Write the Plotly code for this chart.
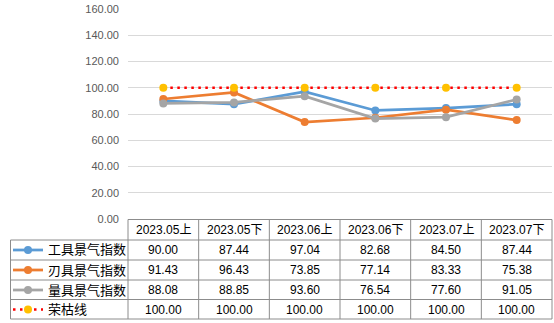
import plotly.graph_objects as go

categories = ["2023.05上", "2023.05下", "2023.06上", "2023.06下", "2023.07上", "2023.07下"]
tool_index = [90.00, 87.44, 97.04, 82.68, 84.50, 87.44]
blade_index = [91.43, 96.43, 73.85, 77.14, 83.33, 75.38]
gauge_index = [88.08, 88.85, 93.60, 76.54, 77.60, 91.05]
boom_line = [100.00, 100.00, 100.00, 100.00, 100.00, 100.00]
series_names = ["工具景气指数", "刃具景气指数", "量具景气指数", "荣枯线"]
y_ticks = [0, 20, 40, 60, 80, 100, 120, 140, 160]

W, H = 554, 323
L, R, T, B = 128, 2, 9, 104
PW, PH = W - L - R, H - T - B
BOTTOM = H - B

def px(x):
    return (x - L) / PW

def py(y):
    return (BOTTOM - y) / PH

FONT = "Liberation Sans, Noto Sans CJK SC, sans-serif"
colors = ["#5B9BD5", "#ED7D31", "#A5A5A5"]
series_vals = [tool_index, blade_index, gauge_index]

fig = go.Figure()
for name, vals, c in zip(series_names[:3], series_vals, colors):
    fig.add_trace(go.Scatter(
        x=categories, y=vals, name=name, mode="lines+markers",
        line=dict(color=c, width=2.75), marker=dict(color=c, size=8),
        cliponaxis=False, showlegend=False))
fig.add_trace(go.Scatter(
    x=categories, y=boom_line, name=series_names[3], mode="lines+markers",
    line=dict(color="#FF0000", width=2.5, dash="2.5px,4.5px"),
    marker=dict(color="#FFC000", size=8), cliponaxis=False, showlegend=False))

shapes = []
border = dict(color="#8C8C8C", width=1)
n = len(categories)
# horizontal lines of table
row_px = [219.5, 240, 260, 280, 299.5, 319]
for i, yy in enumerate(row_px):
    x0 = px(128) if i == 0 else px(10.5)
    shapes.append(dict(type="line", xref="paper", yref="paper", x0=x0, x1=1,
                       y0=py(yy), y1=py(yy), line=border))
# vertical lines
for k in range(n + 1):
    xx = k / n
    shapes.append(dict(type="line", xref="paper", yref="paper", x0=xx, x1=xx,
                       y0=py(219.5), y1=py(319), line=border))
shapes.append(dict(type="line", xref="paper", yref="paper", x0=px(10.5), x1=px(10.5),
                   y0=py(240), y1=py(319), line=border))

annotations = []
row_centers = [250, 270, 290, 309.5]
# header
for i, cat in enumerate(categories):
    annotations.append(dict(text=cat, x=(i + 0.5) / n, y=py(229.5), xref="paper", yref="paper",
                            showarrow=False, font=dict(size=12, color="#000000", family=FONT),
                            xanchor="center", yanchor="middle"))
# values
all_vals = series_vals + [boom_line]
for r, vals in enumerate(all_vals):
    for i, v in enumerate(vals):
        annotations.append(dict(text=f"{v:.2f}", x=(i + 0.5) / n, y=py(row_centers[r]),
                                xref="paper", yref="paper", showarrow=False,
                                font=dict(size=12, color="#000000", family=FONT),
                                xanchor="center", yanchor="middle"))
    annotations.append(dict(text=series_names[r], x=px(46), y=py(row_centers[r]),
                            xref="paper", yref="paper", showarrow=False,
                            font=dict(size=13, color="#000000", family=FONT),
                            xanchor="left", yanchor="middle"))
# legend samples
for r in range(4):
    yc = py(row_centers[r])
    if r < 3:
        shapes.append(dict(type="line", xref="paper", yref="paper", x0=px(13), x1=px(43),
                           y0=yc, y1=yc, line=dict(color=colors[r], width=2.75)))
        mc = colors[r]
    else:
        shapes.append(dict(type="line", xref="paper", yref="paper", x0=px(13), x1=px(43),
                           y0=yc, y1=yc, line=dict(color="#FF0000", width=2.5, dash="2.5px,4.5px")))
        mc = "#FFC000"
    shapes.append(dict(type="circle", xref="paper", yref="paper",
                       x0=px(24), x1=px(32), y0=py(row_centers[r] + 4), y1=py(row_centers[r] - 4),
                       fillcolor=mc, line=dict(color=mc, width=0)))

fig.update_layout(
    width=W, height=H, margin=dict(l=L, r=R, t=T, b=B, pad=0),
    paper_bgcolor="white", plot_bgcolor="white",
    font=dict(family=FONT),
    xaxis=dict(type="category", range=[-0.5, n - 0.5], showticklabels=False, showgrid=False,
               zeroline=False, showline=False, ticks=""),
    yaxis=dict(range=[0, 160], tickvals=y_ticks, tickformat=".2f", showgrid=True,
               gridcolor="#D9D9D9", gridwidth=1, zeroline=False, showline=False,
               ticks="", ticklabelstandoff=8,
               tickfont=dict(size=11, color="#595959", family=FONT)),
    shapes=shapes, annotations=annotations,
)
fig.write_html("out.html")
